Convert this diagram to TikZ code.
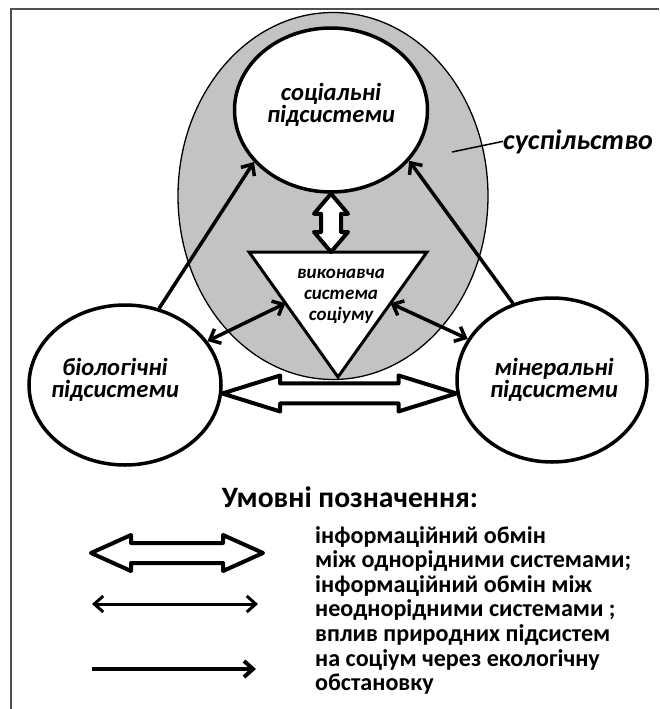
\documentclass[tikz,border=0pt]{standalone}
\usepackage{fontspec}
\setmainfont{Carlito}
\usetikzlibrary{shapes.geometric,arrows.meta,calc}
\definecolor{societygray}{RGB}{195,195,195}
\definecolor{framegray}{RGB}{80,80,80}

\begin{document}
\begin{tikzpicture}[x=1pt,y=-1pt,
    sub/.style={ellipse,draw,line width=3.5pt,fill=white,inner sep=0pt},
    subtext/.style={align=center,inner sep=0pt,font=\fontsize{24.6}{22.3}\selectfont\bfseries\itshape},
    link/.style={line width=3.5pt,-{Straight Barb[length=9pt,width=16pt]}},
    both/.style={line width=3.5pt,{Straight Barb[length=9pt,width=16pt]}-{Straight Barb[length=9pt,width=16pt]}},
    hollow/.style n args={3}{line width=4pt,line join=round,fill=white,to path={
        ($(\tikztostart)!#1!(\tikztotarget)$) coordinate (ha)
        ($(\tikztotarget)!#1!(\tikztostart)$) coordinate (hb)
        (\tikztostart) -- ($(ha)!#2!90:(\tikztotarget)$) -- ($(ha)!#3!90:(\tikztotarget)$)
        -- ($(hb)!#3!-90:(\tikztostart)$) -- ($(hb)!#2!-90:(\tikztostart)$) -- (\tikztotarget)
        -- ($(hb)!#2!90:(\tikztostart)$) -- ($(hb)!#3!90:(\tikztostart)$)
        -- ($(ha)!#3!-90:(\tikztotarget)$) -- ($(ha)!#2!-90:(\tikztotarget)$) -- cycle}}]
    \useasboundingbox (0,0) rectangle (659,709);
    \draw[framegray,line width=1.5pt] (11,709) -- (11,9) -- (659,9);

    % society and its subsystems
    \node[ellipse,draw,fill=societygray,line width=1.3pt,minimum width=310pt,minimum height=367pt] (society) at (333,196) {};
    \node[font=\fontsize{28.1}{30}\selectfont\bfseries\itshape,anchor=base west,inner sep=0pt] (societylabel) at (503,149) {суспільство};
    \coordinate (societypin) at (452,152);
    \draw[line width=1.5pt] (societypin) -- (societylabel.west);

    \node[sub,minimum width=193pt,minimum height=164pt] (soc) at (331,110) {};
    \node[sub,minimum width=192pt,minimum height=160pt] (bio) at (125,385) {};
    \node[sub,minimum width=190pt,minimum height=164pt] (min) at (552,380) {};
    \node[subtext] (soctext) at ($(soc)+(0,-5)$) {соціальні\\підсистеми};
    \node[subtext] (biotext) at ($(bio)+(-10,-5)$) {біологічні\\підсистеми};
    \node[subtext] (mintext) at ($(min)+(2,0)$) {мінеральні\\підсистеми};

    % executive system
    \coordinate (tl) at (249,252);
    \coordinate (tr) at (427,252);
    \coordinate (ap) at (338,377);
    \draw[line width=3pt,fill=white] (tl) -- (tr) -- (ap) -- cycle;
    \node[align=center,inner sep=0pt,font=\fontsize{19}{21}\selectfont\bfseries\itshape] (exec) at (341,296) {виконавча\\система\\соціуму};
    \coordinate (tleft) at ($(tl)!0.41!(ap)$);
    \coordinate (tright) at ($(tr)!0.41!(ap)$);
    \coordinate (ttop) at (soc.south |- tl);

    \draw[link] (bio.66) -- (soc.214);
    \draw[link] (min.117) -- (soc.327);
    \draw[both] (bio.28) -- (tleft);
    \draw[both] (tright) -- (min.154);
    \draw[hollow={20pt}{17pt}{10pt}] (soc.south) to (ttop);
    \draw[hollow={58pt}{18pt}{10pt}] (bio.-5) to (min.188);

    % legend
    \node[font=\fontsize{29.6}{32}\selectfont\bfseries,anchor=base,inner sep=0pt] (legend) at (350,507) {Умовні позначення:};
    \coordinate (h1) at (91,553);
    \coordinate (h2) at (263,553);
    \coordinate (d1) at (92,604);
    \coordinate (d2) at (258,604);
    \coordinate (s1) at (92,669);
    \coordinate (s2) at (256,669);
    \draw[hollow={40pt}{18pt}{10pt}] (h1) to (h2);
    \draw[both,line width=3pt] (d1) -- (d2);
    \draw[link,line width=4pt] (s1) -- (s2);
    \node[anchor=north west,align=left,inner sep=0pt,font=\fontsize{24.1}{24.6}\selectfont\bfseries] (legendtext) at (315,526)
        {інформаційний обмін\\між однорідними системами;\\інформаційний обмін між\\неоднорідними системами ;\\вплив природних підсистем\\на соціум через екологічну\\обстановку};
\end{tikzpicture}
\end{document}
